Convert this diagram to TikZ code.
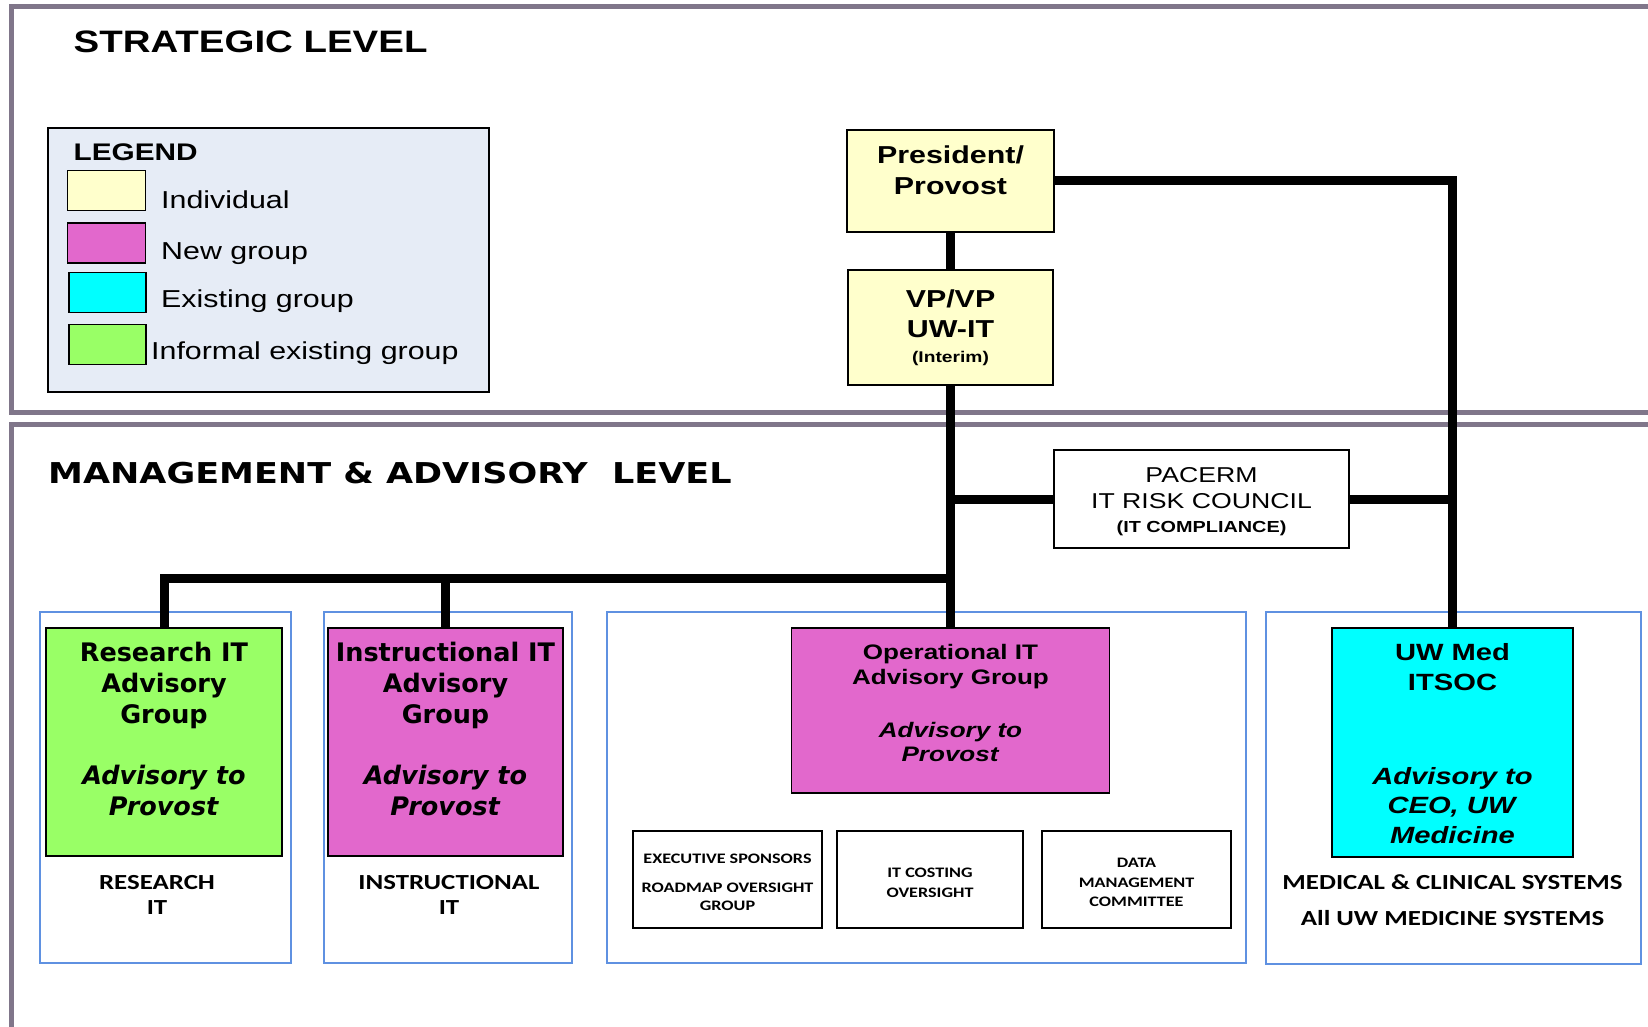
\documentclass[tikz,border=0pt]{standalone}
\usepackage{fontspec}
\setmainfont{Liberation Sans}
\newfontfamily\arialf{Liberation Sans}[FakeStretch=1.24]
\newfontfamily\verdf{DejaVu Sans}
\newfontfamily\verdwf{DejaVu Sans}[FakeStretch=1.22]
\newfontfamily\capsf{Carlito}[FakeStretch=1.25]
\usepackage{tikz}
\usetikzlibrary{positioning}

\newcommand\fsz[2]{\fontsize{#1}{#2}\selectfont}

\definecolor{framegray}{RGB}{128,118,138}
\definecolor{contblue}{RGB}{95,145,225}
\definecolor{legendbg}{RGB}{230,236,246}
\definecolor{indivyellow}{RGB}{255,255,204}
\definecolor{newmagenta}{RGB}{226,104,204}
\definecolor{existcyan}{RGB}{0,255,255}
\definecolor{infgreen}{RGB}{153,255,102}

\tikzset{
  levelframe/.style={draw=framegray, line width=5.5pt},
  box/.style={draw=black, line width=1.4pt, inner sep=0pt},
  indiv/.style={box, fill=indivyellow},
  newgrp/.style={box, fill=newmagenta},
  exgrp/.style={box, fill=existcyan},
  infgrp/.style={box, fill=infgreen},
  container/.style={draw=contblue, line width=1.6pt, inner sep=0pt},
  swatch/.style={box, minimum width=78pt, minimum height=40pt},
  link/.style={line width=9pt},
  plain/.style={inner sep=0pt, align=center},
  legtext/.style={plain, font=\arialf\fsz{24.5}{30}},
  arialtitle/.style={plain, font=\arialf\bfseries\fsz{24.5}{31}},
  verdtitle/.style={plain, font=\verdf\bfseries\fsz{25.5}{31}},
  opstitle/.style={plain, font=\arialf\bfseries\fsz{21}{25}},
  medtitle/.style={plain, font=\arialf\bfseries\fsz{23.5}{29.5}},
  capslabel/.style={plain, font=\capsf\bfseries\fsz{21.5}{25}},
  subbox/.style={box, fill=white, align=center, font=\capsf\bfseries\fsz{14.5}{18},
    minimum width=188pt, minimum height=97pt}
}

\begin{document}
\begin{tikzpicture}[x=1pt, y=-1pt]
  \useasboundingbox (0,0) rectangle (1648,1027);

  % the two levels
  \draw[levelframe] (1652,6.5) -- (11.5,6.5) -- (11.5,412.5) -- (1652,412.5);
  \draw[levelframe] (1652,424.5) -- (11.5,424.5) -- (11.5,1032);
  \node[plain, font=\arialf\bfseries\fsz{31}{36}, anchor=base west] (strat) at (73.5,53) {STRATEGIC LEVEL};
  \node[plain, font=\verdwf\bfseries\fsz{28.7}{34}, anchor=base west] (mgmt) at (48,483) {MANAGEMENT \& ADVISORY\ \ LEVEL};

  % legend
  \node[box, fill=legendbg, minimum width=441pt, minimum height=264pt] (legend) at (268.5,260) {};
  \node[legtext, font=\arialf\bfseries\fsz{24}{30}, anchor=base west] (legT) at (73.5,160.5) {LEGEND};
  \node[swatch, indiv] (swI) at (106.5,190.5) {};
  \node[swatch, newgrp] (swN) at (106.5,243) {};
  \node[swatch, exgrp, minimum width=77pt] (swE) at (107.5,292.5) {};
  \node[swatch, infgrp, minimum width=77pt] (swF) at (107.5,344.5) {};
  \node[legtext, anchor=base west] (legI) at (161,208) {Individual};
  \node[legtext, anchor=base west] (legN) at (161,259) {New group};
  \node[legtext, anchor=base west] (legE) at (161,307) {Existing group};
  \node[legtext, anchor=base west] (legF) at (151,359) {Informal existing group};

  % strategic level
  \node[indiv, minimum width=207pt, minimum height=102pt] (pres) at (950.5,181) {};
  \node[arialtitle, below=16pt of pres.north] (presT) {President/\\Provost};
  \node[indiv, align=center, font=\arialf\bfseries\fsz{24.5}{30},
        minimum width=205pt, minimum height=115pt] (vp) at (950.5,327.5)
        {VP/VP\\UW-IT\\[-5pt]{\fsz{15.5}{15.5}(Interim)}};

  % management & advisory level
  \node[box, fill=white, align=center, font=\arialf\fsz{21.5}{26},
        minimum width=295pt, minimum height=98pt] (pac) at (1201.5,499)
        {\rule{0pt}{20.5pt}PACERM\\IT RISK COUNCIL\\[-2pt]{\bfseries\fsz{16}{16}(IT COMPLIANCE)}};

  \node[container, minimum width=251pt, minimum height=351pt] (resC) at (165.5,787.5) {};
  \node[container, minimum width=248pt, minimum height=351pt] (insC) at (448,787.5) {};
  \node[container, minimum width=639pt, minimum height=351pt] (opsC) at (926.5,787.5) {};
  \node[container, minimum width=375pt, minimum height=352pt] (medC) at (1453.5,788) {};

  \node[infgrp, minimum width=236pt, minimum height=228pt] (res) at (164,742) {};
  \node[verdtitle, below=15pt of res.north] (resT)
       {Research IT\\Advisory\\Group\\[30pt]\textit{Advisory to}\\\textit{Provost}};
  \node[capslabel, below=18pt of res.south, xshift=-7pt] (resL) {RESEARCH\\IT};

  \node[newgrp, minimum width=235pt, minimum height=228pt] (ins) at (445.5,742) {};
  \node[verdtitle, below=15pt of ins.north] (insT)
       {Instructional IT\\Advisory\\Group\\[30pt]\textit{Advisory to}\\\textit{Provost}};
  \node[capslabel, below=18pt of ins.south, xshift=3.5pt] (insL) {INSTRUCTIONAL\\IT};

  \node[newgrp, minimum width=318pt, minimum height=165pt] (ops) at (950.5,710.5) {};
  \node[opstitle, below=17pt of ops.north] (opsT)
       {Operational IT\\Advisory Group\\[28pt]\textit{Advisory to}\\[-1pt]\textit{Provost}};
  \node[subbox, minimum width=189pt] (exec) at (727.5,879.5)
       {\rule{0pt}{15.5pt}EXECUTIVE SPONSORS\\[11pt]ROADMAP OVERSIGHT\\GROUP};
  \node[subbox, minimum width=186pt] (cost) at (930,879.5)
       {\rule{0pt}{15.5pt}IT COSTING\\[2pt]OVERSIGHT};
  \node[subbox, minimum width=189pt] (data) at (1136.5,879.5)
       {\rule{0pt}{15.5pt}DATA\\[1.5pt]MANAGEMENT\\[1.5pt]COMMITTEE};

  \node[exgrp, minimum width=241pt, minimum height=229pt] (med) at (1452.5,742.5) {};
  \node[medtitle, below=16pt of med.north] (medT)
       {UW Med\\ITSOC\\[64.5pt]\textit{Advisory to}\\\textit{CEO, UW}\\\textit{Medicine}};
  \node[capslabel, below=17pt of med.south, font=\capsf\bfseries\fsz{21.5}{36}] (medL)
       {MEDICAL \& CLINICAL SYSTEMS\\All UW MEDICINE SYSTEMS};

  % reporting lines
  \coordinate (jn) at (950.5,578);
  \draw[link] (pres.south) -- (vp.north);
  \draw[link] (vp.south) -- (ops.north);
  \draw[link] (jn) -| (res.north);
  \draw[link] (ins.north) -- (ins.north |- jn);
  \draw[link] (pac.west) -- (pac.west -| vp.south);
  \draw[link] (pres.east) -| (med.north);
  \draw[link] (pac.east) -- (pac.east -| med.north);
\end{tikzpicture}
\end{document}
